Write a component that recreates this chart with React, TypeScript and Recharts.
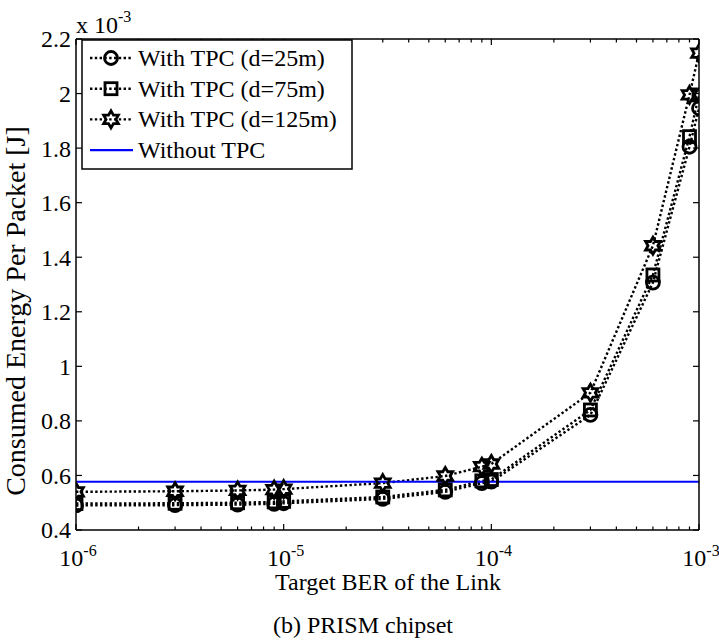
import React from 'react';
import { LineChart, Line, XAxis, YAxis } from 'recharts';

const berValues = [1e-6, 3e-6, 6e-6, 9e-6, 1e-5, 3e-5, 6e-5, 9e-5, 1e-4, 3e-4, 6e-4, 9e-4, 1e-3];
const tpc25 = [0.490, 0.491, 0.493, 0.496, 0.498, 0.514, 0.540, 0.572, 0.577, 0.822, 1.307, 1.805, 1.946];
const tpc75 = [0.497, 0.498, 0.500, 0.503, 0.505, 0.521, 0.547, 0.580, 0.585, 0.840, 1.335, 1.842, 1.995];
const tpc125 = [0.540, 0.542, 0.545, 0.548, 0.550, 0.572, 0.598, 0.632, 0.642, 0.903, 1.442, 1.995, 2.148];
const noTpc = [0.577, 0.577, 0.577, 0.577, 0.577, 0.577, 0.577, 0.577, 0.577, 0.577, 0.577, 0.577, 0.577];

const xTicks = [
  1e-6, 2e-6, 3e-6, 4e-6, 5e-6, 6e-6, 7e-6, 8e-6, 9e-6,
  1e-5, 2e-5, 3e-5, 4e-5, 5e-5, 6e-5, 7e-5, 8e-5, 9e-5,
  1e-4, 2e-4, 3e-4, 4e-4, 5e-4, 6e-4, 7e-4, 8e-4, 9e-4,
  1e-3,
];
const yTicks = [0.4, 0.6, 0.8, 1.0, 1.2, 1.4, 1.6, 1.8, 2.0, 2.2];
const seriesNames = ['With TPC (d=25m)', 'With TPC (d=75m)', 'With TPC (d=125m)', 'Without TPC'];
const xLabel = 'Target BER of the Link';
const yLabel = 'Consumed Energy Per Packet [J]';
const caption = '(b) PRISM chipset';

const data = berValues.map((x, i) => ({
  x,
  c: tpc25[i],
  s: tpc75[i],
  h: tpc125[i],
  n: noTpc[i],
}));

const FONT = '"Liberation Serif", "Times New Roman", serif';
const MSW = 2.8;

const isMajor = (v: number) => {
  const l = Math.log10(v);
  return Math.abs(l - Math.round(l)) < 1e-6;
};

const circleMarker = (cx: number, cy: number, key?: any) => (
  <circle key={key} cx={cx} cy={cy} r={6.5} fill="none" stroke="#000" strokeWidth={MSW} />
);
const squareMarker = (cx: number, cy: number, key?: any) => (
  <rect key={key} x={cx - 6} y={cy - 6} width={12} height={12} fill="none" stroke="#000" strokeWidth={MSW} />
);
const hexPath = (cx: number, cy: number, R: number) => {
  const pts: string[] = [];
  for (let i = 0; i < 12; i++) {
    const a = (-90 + i * 30) * Math.PI / 180;
    const r = i % 2 === 0 ? R : R / Math.sqrt(3);
    pts.push(`${(cx + r * Math.cos(a)).toFixed(2)},${(cy + r * Math.sin(a)).toFixed(2)}`);
  }
  return 'M' + pts.join('L') + 'Z';
};
const hexMarker = (cx: number, cy: number, key?: any) => (
  <path key={key} d={hexPath(cx, cy, 8.5)} fill="none" stroke="#000" strokeWidth={MSW} strokeLinejoin="miter" />
);

const BottomTick = (props: any) => {
  const { x, y, payload } = props;
  const v = payload.value;
  const major = isMajor(v);
  const exp = Math.round(Math.log10(v));
  return (
    <g>
      <line x1={x} x2={x} y1={y} y2={y - (major ? 6 : 3.5)} stroke="#000" strokeWidth={1.2} />
      {major && (
        <text x={x + 2} y={y + 36} textAnchor="middle" fontFamily={FONT} fontSize={24} fill="#000">
          10<tspan dy={-10} fontSize={16}>{String(exp)}</tspan>
        </text>
      )}
    </g>
  );
};
const TopTick = (props: any) => {
  const { x, y, payload } = props;
  const major = isMajor(payload.value);
  return <line x1={x} x2={x} y1={y} y2={y + (major ? 6 : 3.5)} stroke="#000" strokeWidth={1.2} />;
};
const LeftTick = (props: any) => {
  const { x, y, payload } = props;
  const label = Number(payload.value.toFixed(1)).toString();
  return (
    <g>
      <line x1={x} x2={x + 6} y1={y} y2={y} stroke="#000" strokeWidth={1.2} />
      <text x={x - 5} y={y} dy="0.35em" textAnchor="end" fontFamily={FONT} fontSize={24} fill="#000">
        {label}
      </text>
    </g>
  );
};
const RightTick = (props: any) => {
  const { x, y } = props;
  return <line x1={x - 6} x2={x} y1={y} y2={y} stroke="#000" strokeWidth={1.2} />;
};

const dotted = '2.4 2.4';

export default function App() {
  const legendRows = [
    { name: seriesNames[0], m: circleMarker, color: '#000', dash: dotted },
    { name: seriesNames[1], m: squareMarker, color: '#000', dash: dotted },
    { name: seriesNames[2], m: hexMarker, color: '#000', dash: dotted },
    { name: seriesNames[3], m: null as any, color: '#0000ff', dash: undefined },
  ];
  return (
    <div style={{ position: 'absolute', left: 0, top: 0, width: 719, height: 642, background: '#fff' }}>
      <LineChart width={719} height={642} data={data} margin={{ top: 38, right: 19, bottom: 111, left: 75 }}>
        <XAxis
          dataKey="x" type="number" scale="log" domain={[1e-6, 1e-3]} ticks={xTicks} interval={0}
          height={1} tickSize={0} tickMargin={0} tick={BottomTick} allowDataOverflow
          axisLine={{ stroke: '#000', strokeWidth: 1.5 }} tickLine={false}
        />
        <XAxis
          xAxisId="t" orientation="top" dataKey="x" type="number" scale="log" domain={[1e-6, 1e-3]}
          ticks={xTicks} interval={0} height={1} tickSize={0} tickMargin={0} tick={TopTick} allowDataOverflow
          axisLine={{ stroke: '#000', strokeWidth: 1.5 }} tickLine={false}
        />
        <YAxis
          type="number" domain={[0.4, 2.2]} ticks={yTicks} interval={0} width={1} tickSize={0} tickMargin={0}
          tick={LeftTick} allowDataOverflow axisLine={{ stroke: '#000', strokeWidth: 1.5 }} tickLine={false}
        />
        <YAxis
          yAxisId="r" orientation="right" type="number" domain={[0.4, 2.2]} ticks={yTicks} interval={0} width={1}
          tickSize={0} tickMargin={0} tick={RightTick} allowDataOverflow
          axisLine={{ stroke: '#000', strokeWidth: 1.5 }} tickLine={false}
        />
        <Line xAxisId="t" yAxisId="r" dataKey="c" stroke="none" dot={false} isAnimationActive={false} legendType="none" />
        <Line
          dataKey="c" stroke="#000" strokeWidth={2.4} strokeDasharray={dotted} isAnimationActive={false}
          dot={(p: any) => circleMarker(p.cx, p.cy, `c${p.index}`)} activeDot={false}
        />
        <Line
          dataKey="s" stroke="#000" strokeWidth={2.4} strokeDasharray={dotted} isAnimationActive={false}
          dot={(p: any) => squareMarker(p.cx, p.cy, `s${p.index}`)} activeDot={false}
        />
        <Line
          dataKey="h" stroke="#000" strokeWidth={2.4} strokeDasharray={dotted} isAnimationActive={false}
          dot={(p: any) => hexMarker(p.cx, p.cy, `h${p.index}`)} activeDot={false}
        />
        <Line dataKey="n" stroke="#0000ff" strokeWidth={2} dot={false} activeDot={false} isAnimationActive={false} />
      </LineChart>
      <svg
        width={719} height={642}
        style={{ position: 'absolute', left: 0, top: 0, pointerEvents: 'none' }}
        fontFamily={FONT}
      >
        <text x={76} y={33} fontSize={24} fill="#000">
          x 10<tspan dy={-11} fontSize={16}>-3</tspan>
        </text>
        <text x={25} y={311} transform="rotate(-90 25 311)" textAnchor="middle" fontSize={28} fill="#000">
          {yLabel}
        </text>
        <text x={388} y={590} textAnchor="middle" fontSize={24} fill="#000">{xLabel}</text>
        <text x={363} y={633} textAnchor="middle" fontSize={24} fill="#000">{caption}</text>
        <g>
          <rect x={82} y={40} width={270} height={129} fill="#fff" stroke="#000" strokeWidth={1.5} />
          {legendRows.map((r, i) => {
            const cy = 58 + i * 30.7;
            return (
              <g key={i}>
                <line x1={90} x2={133} y1={cy} y2={cy} stroke={r.color} strokeWidth={2.4} strokeDasharray={r.dash} />
                {r.m && r.m(111, cy)}
                <text x={138} y={cy + 8} fontSize={24} fill="#000">{r.name}</text>
              </g>
            );
          })}
        </g>
      </svg>
    </div>
  );
}
